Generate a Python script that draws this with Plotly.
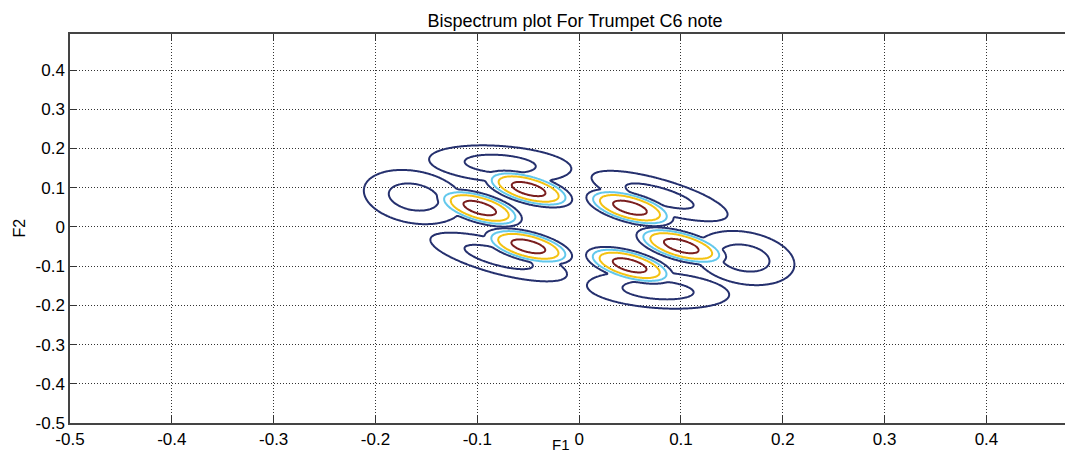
import numpy as np
import plotly.graph_objects as go

# ---------------- values ----------------
x_tick_values = [-0.5, -0.4, -0.3, -0.2, -0.1, 0.0, 0.1, 0.2, 0.3, 0.4]
x_tick_labels = ["-0.5", "-0.4", "-0.3", "-0.2", "-0.1", "0", "0.1", "0.2", "0.3", "0.4"]
y_tick_values = [-0.5, -0.4, -0.3, -0.2, -0.1, 0.0, 0.1, 0.2, 0.3, 0.4]
y_tick_labels = ["-0.5", "-0.4", "-0.3", "-0.2", "-0.1", "0", "0.1", "0.2", "0.3", "0.4"]

contour_levels = [1, 2, 3, 4]
level_colors = ["#25306e", "#62c8ec", "#f4c212", "#7a1e1e"]

# six strong lobes of the bispectrum magnitude
lobe_f1 = [-0.0496, -0.0976, -0.0499, 0.0499, 0.1003, 0.0496]
lobe_f2 = [0.0966, 0.0482, -0.0495, 0.0490, -0.0487, -0.0979]
lobe_height = [4.13, 4.13, 4.13, 4.13, 4.13, 4.13]
lobe_length = [0.0340, 0.0330, 0.0340, 0.0340, 0.0350, 0.0340]   # spread along the lobe (F1 units)
lobe_width = [0.0112, 0.0112, 0.0112, 0.0112, 0.0112, 0.0112]    # spread across the lobe
lobe_tilt = [15, 16, 14, 15, 15, 15]                                # degrees, falling to the right

# weak ridges around the secondary minima inside each outer contour
ridge_f1 = [-0.0775, -0.1624, -0.0790, 0.0790, 0.1624, 0.0775]
ridge_f2 = [0.1604, 0.0762, -0.0767, 0.0788, -0.0793, -0.1609]
ridge_height = [1.5, 1.5, 1.5, 1.5, 1.5, 1.5]
ridge_length = [0.0525, 0.0372, 0.0520, 0.0520, 0.0372, 0.0525]
ridge_width = [0.0133, 0.0192, 0.0123, 0.0123, 0.0192, 0.0133]
ridge_tilt = [4, 10, 15, 16, 10, 4]
ridge_spread = 0.37

F2_TO_F1 = 0.385   # on-screen size of one F2 unit relative to one F1 unit

f1 = np.round(np.arange(-0.30, 0.3001, 0.0012), 4)
f2 = np.round(np.arange(-0.30, 0.3001, 0.002), 4)
X, Y = np.meshgrid(f1, f2)
V = Y * F2_TO_F1


def rotated(cx, cy, tilt):
    t = np.radians(tilt)
    dx = X - cx
    dv = V - cy * F2_TO_F1
    a = dx * np.cos(t) - dv * np.sin(t)
    b = dx * np.sin(t) + dv * np.cos(t)
    return a, b


K = 10.0
acc = np.zeros_like(X)
for cx, cy, h, la, wb, tl in zip(lobe_f1, lobe_f2, lobe_height, lobe_length, lobe_width, lobe_tilt):
    a, b = rotated(cx, cy, tl)
    rho2 = (a / la) ** 2 + (b / wb) ** 2
    acc += (h * np.exp(-0.5 * rho2 ** 2)) ** K
for cx, cy, h, la, wb, tl in zip(ridge_f1, ridge_f2, ridge_height, ridge_length, ridge_width, ridge_tilt):
    a, b = rotated(cx, cy, tl)
    rho = np.sqrt((a / la) ** 2 + (b / wb) ** 2)
    acc += (h * np.exp(-0.5 * ((rho - 1.0) / ridge_spread) ** 2)) ** K
Z = np.round(acc ** (1.0 / K), 3)

n = len(level_colors) - 1
colorscale = [[i / n, c] for i, c in enumerate(level_colors)]

fig = go.Figure()
fig.add_trace(go.Contour(
    x=f1, y=f2, z=Z,
    autocontour=False,
    contours=dict(coloring="lines", start=contour_levels[0], end=contour_levels[-1],
                  size=contour_levels[1] - contour_levels[0]),
    colorscale=colorscale,
    line=dict(width=2, smoothing=1),
    showscale=False,
    hoverinfo="skip",
))

axis_common = dict(
    ticks="inside", ticklen=7, tickwidth=1, tickcolor="#333333",
    showline=True, linecolor="#444444", linewidth=1.5,
    showgrid=True, gridcolor="#333333", gridwidth=1, griddash="1px,2px",
    zeroline=False, tickfont=dict(size=17, color="black"),
)

# the page body adds an 8px offset, so the figure is 8px smaller each way
fig.update_layout(
    width=1065, height=447,
    margin=dict(l=62, r=0, t=26, b=32),
    paper_bgcolor="white", plot_bgcolor="white",
    font=dict(family="Liberation Sans, Arial, Helvetica, sans-serif", size=16, color="black"),
    showlegend=False,
    title=dict(text="Bispectrum plot For Trumpet C6 note", x=0.5035, xref="paper", xanchor="center",
               y=1 - 13 / 447, yref="container", yanchor="middle", font=dict(size=18, color="black")),
    xaxis=dict(range=[-0.5, 0.485], tickvals=x_tick_values, ticktext=x_tick_labels,
               mirror="ticks", **axis_common),
    yaxis=dict(range=[-0.5, 0.492], tickvals=y_tick_values, ticktext=y_tick_labels,
               mirror=False, **axis_common),
    annotations=[
        dict(text="F2", xref="paper", yref="paper", x=-0.0508, y=0.5, xanchor="center",
             yanchor="middle", textangle=-90, showarrow=False, font=dict(size=16)),
        dict(text="F1", xref="paper", yref="paper", x=(561 - 70) / 1003, y=-(455 - 423) / 389,
             xanchor="center", yanchor="bottom", showarrow=False, font=dict(size=15)),
    ],
)

fig.write_html("out.html")
